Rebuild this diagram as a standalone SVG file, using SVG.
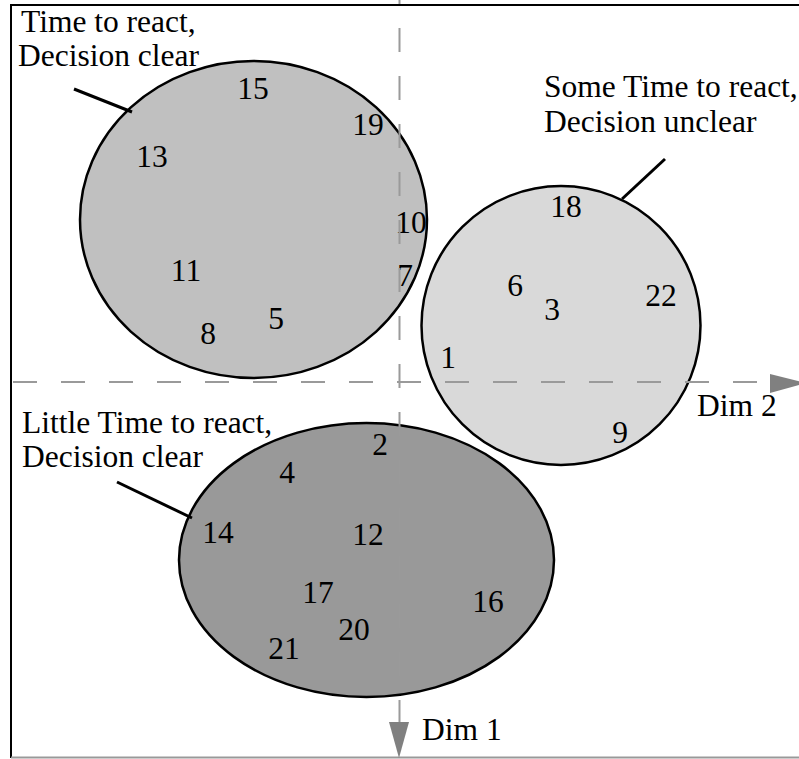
<svg xmlns="http://www.w3.org/2000/svg" width="799" height="759" viewBox="0 0 799 759">
<style>
text{font-family:"Liberation Serif","Times New Roman",serif;font-size:31.5px;fill:#000}
.n{text-anchor:middle}
.cl{stroke:#000;stroke-width:2.5}
.ax{stroke:#9a9a9a;stroke-width:2;stroke-dasharray:24 24;fill:none}
.ah{fill:#808080;stroke:none}
.ld{stroke:#000;stroke-width:3;fill:none}
</style>
<rect width="799" height="759" fill="#fff"/>
<g id="frame">
<line x1="11" y1="4" x2="11" y2="758" stroke="#000" stroke-width="2"/>
<line x1="10" y1="5" x2="799" y2="5" stroke="#000" stroke-width="2"/>
<line x1="11" y1="757.5" x2="799" y2="757.5" stroke="#999" stroke-width="2"/>
</g>
<g id="cluster-a">
<ellipse cx="253.5" cy="219.5" rx="173.5" ry="158.5" fill="#c0c0c0" class="cl"/>
<text class="n" x="253" y="99">15</text>
<text class="n" x="368" y="135">19</text>
<text class="n" x="152" y="167">13</text>
<text class="n" x="411" y="233">10</text>
<text class="n" x="405" y="286">7</text>
<text class="n" x="186" y="281">11</text>
<text class="n" x="276" y="329">5</text>
<text class="n" x="208" y="344">8</text>
</g>
<g id="cluster-b">
<circle cx="561" cy="325.5" r="139.5" fill="#d9d9d9" class="cl"/>
<text class="n" x="566" y="217">18</text>
<text class="n" x="515" y="296">6</text>
<text class="n" x="552" y="320">3</text>
<text class="n" x="661" y="306">22</text>
<text class="n" x="448" y="368">1</text>
<text class="n" x="620" y="443">9</text>
</g>
<g id="cluster-c">
<ellipse cx="366.5" cy="560" rx="187.5" ry="137" fill="#999999" class="cl"/>
<text class="n" x="380" y="455">2</text>
<text class="n" x="287" y="483">4</text>
<text class="n" x="218" y="543">14</text>
<text class="n" x="368" y="545">12</text>
<text class="n" x="318" y="603">17</text>
<text class="n" x="488" y="612">16</text>
<text class="n" x="354" y="640">20</text>
<text class="n" x="284" y="659">21</text>
</g>
<g id="connectors">
<line class="ax" x1="13" y1="382" x2="757" y2="382"/>
<polygon class="ah" points="770,374 770,393 806,383"/>
<line class="ax" x1="399.5" y1="-20" x2="399.5" y2="724"/>
<polygon class="ah" points="389,722 409,722 399,758"/>
<line class="ld" x1="74" y1="89" x2="132" y2="112"/>
<line class="ld" x1="665" y1="159" x2="622" y2="199"/>
<line class="ld" x1="117" y1="482" x2="192" y2="518"/>
</g>
<g id="labels">
<text x="21" y="32">Time to react,</text>
<text x="18" y="66">Decision clear</text>
<text x="544" y="97">Some Time to react,</text>
<text x="544" y="132">Decision unclear</text>
<text x="22" y="433">Little Time to react,</text>
<text x="22" y="467">Decision clear</text>
<text x="697" y="416">Dim 2</text>
<text x="422" y="740">Dim 1</text>
</g>
</svg>
